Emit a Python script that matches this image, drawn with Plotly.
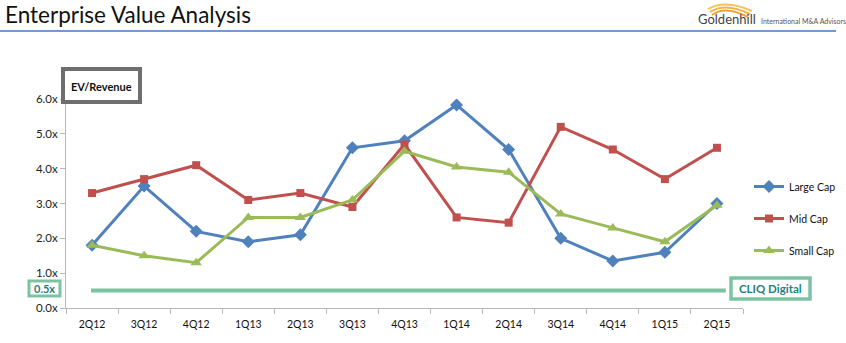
import plotly.graph_objects as go

quarters = ["2Q12", "3Q12", "4Q12", "1Q13", "2Q13", "3Q13", "4Q13",
            "1Q14", "2Q14", "3Q14", "4Q14", "1Q15", "2Q15"]
large_cap = [1.8, 3.5, 2.2, 1.9, 2.1, 4.6, 4.8, 5.83, 4.55, 2.0, 1.35, 1.6, 3.0]
mid_cap = [3.3, 3.7, 4.1, 3.1, 3.3, 2.9, 4.7, 2.6, 2.45, 5.2, 4.55, 3.7, 4.6]
small_cap = [1.8, 1.5, 1.3, 2.6, 2.6, 3.1, 4.5, 4.05, 3.9, 2.7, 2.3, 1.9, 2.95]
cliq_value = 0.5
y_ticks = [0, 1, 2, 3, 4, 5, 6]

W, H = 846, 343
L, R, T, B = 66, 103, 99, 35
PW, PH = W - L - R, H - T - B


def px(x):
    return (x - L) / PW


def py(y):
    return (H - B - y) / PH


FONT = "Lato, 'Open Sans', sans-serif"

fig = go.Figure()
series = [
    ("Large Cap", large_cap, "#4f81bd", "diamond", 10),
    ("Mid Cap", mid_cap, "#c0504d", "square", 8),
    ("Small Cap", small_cap, "#9bbb59", "triangle-up", 10),
]
for name, vals, color, sym, size in series:
    fig.add_trace(go.Scatter(
        x=quarters, y=vals, name=name, legendgroup=name,
        mode="lines+markers",
        line=dict(color=color, width=3),
        marker=dict(symbol=sym, size=size, color=color),
    ))

shapes = [
    # CLIQ Digital reference level
    dict(type="line", xref="x", yref="y", x0=-0.02, x1=12.17,
         y0=cliq_value, y1=cliq_value, layer="below",
         line=dict(color="#7cc3a3", width=4)),
    # title underline
    dict(type="rect", xref="paper", yref="paper",
         x0=px(0), x1=px(836), y0=py(32), y1=py(30),
         line=dict(width=0), fillcolor="#6d9dd8"),
    # EV/Revenue box
    dict(type="rect", xref="paper", yref="paper",
         x0=px(63), x1=px(140), y0=py(69), y1=py(102),
         line=dict(color="#6e6e6e", width=4), fillcolor="white"),
    # 0.5x box
    dict(type="rect", xref="paper", yref="paper",
         x0=px(29), x1=px(60), y0=py(281), y1=py(296),
         line=dict(color="#7cc3a3", width=3), fillcolor="white"),
    # CLIQ Digital box
    dict(type="rect", xref="paper", yref="paper",
         x0=px(731), x1=px(810), y0=py(278), y1=py(299),
         line=dict(color="#7cc3a3", width=3.5), fillcolor="white"),
]
# logo arcs
arc_cols = ["#f6c35a", "#f3b445", "#eea534"]
for i, c in enumerate(arc_cols):
    x0, x1 = 708 + i * 2, 752 - i * 2
    ytop = 1 + i * 3
    ybot = 9 + i * 3
    shapes.append(dict(
        type="path", xref="paper", yref="paper",
        path=(f"M {px(x0)} {py(ybot)} Q {px((x0 + x1) / 2 - 5)} {py(ytop - 2)} "
              f"{px(x1)} {py(ybot + 2)}"),
        line=dict(color=c, width=2)))

annotations = [
    dict(text="Enterprise Value Analysis", xref="paper", yref="paper",
         x=px(3), y=py(14), xanchor="left", yanchor="middle", showarrow=False,
         font=dict(family=FONT, size=22.5, color="#111")),
    dict(text="Goldenhill", xref="paper", yref="paper",
         x=px(758), y=py(19), xanchor="right", yanchor="middle", showarrow=False,
         font=dict(family=FONT, size=13, color="#444")),
    dict(text="International M&A Advisors", xref="paper", yref="paper",
         x=px(759), y=py(21), xanchor="left", yanchor="middle", showarrow=False,
         font=dict(family=FONT, size=7, color="#555")),
    dict(text="<b>EV/Revenue</b>", xref="paper", yref="paper",
         x=px(101.5), y=py(86), xanchor="center", yanchor="middle",
         showarrow=False, font=dict(family=FONT, size=11, color="#111")),
    dict(text=f"<b>{cliq_value:.1f}x</b>", xref="paper", yref="paper",
         x=px(44.5), y=py(288.5), xanchor="center", yanchor="middle",
         showarrow=False, font=dict(family=FONT, size=11, color="#1f7f7f")),
    dict(text="<b>CLIQ Digital</b>", xref="paper", yref="paper",
         x=px(770.5), y=py(288.5), xanchor="center", yanchor="middle",
         showarrow=False, font=dict(family=FONT, size=11.5, color="#1f7f7f")),
]

fig.update_layout(
    width=W, height=H,
    margin=dict(l=L, r=R, t=T, b=B, autoexpand=False),
    paper_bgcolor="white", plot_bgcolor="white",
    font=dict(family=FONT, size=11, color="#222"),
    shapes=shapes, annotations=annotations,
    showlegend=True,
    legend=dict(x=px(749), y=py(172), xanchor="left", yanchor="top",
                bgcolor="rgba(0,0,0,0)", tracegroupgap=13, itemwidth=30,
                font=dict(family=FONT, size=10.5, color="#111")),
    xaxis=dict(type="category", categoryorder="array", categoryarray=quarters,
               showline=True, linecolor="#b8b8b8", linewidth=1,
               ticks="outside", tickson="boundaries", ticklen=5,
               tickcolor="#b8b8b8", showgrid=False, zeroline=False,
               ticklabelstandoff=6,
               tickfont=dict(family=FONT, size=10.5, color="#111"),
               range=[-0.5, 12.5]),
    yaxis=dict(range=[0, 6], tickvals=y_ticks,
               ticktext=[f"{v:.1f}x" for v in y_ticks],
               showline=True, linecolor="#b8b8b8", linewidth=1,
               ticks="outside", ticklen=5, tickcolor="#b8b8b8",
               showgrid=False, zeroline=False,
               tickfont=dict(family=FONT, size=11.5, color="#222")),
)

fig.write_html("out.html")
